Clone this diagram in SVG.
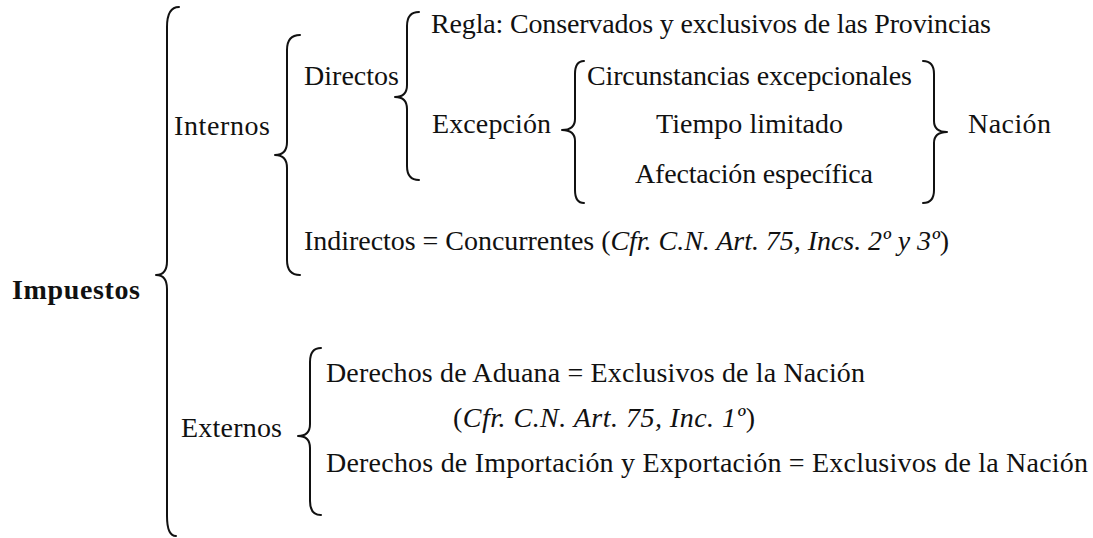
<svg xmlns="http://www.w3.org/2000/svg" width="1093" height="538" viewBox="0 0 1093 538">
<style>
text{font-family:"Liberation Serif","Times New Roman",serif;font-size:28px;fill:#111}
.b{font-weight:bold}
.i{font-style:italic}
.br{fill:none;stroke:#111;stroke-width:2;stroke-linecap:round;stroke-linejoin:round}
</style>
<rect width="1093" height="538" fill="#fff"/>
<g id="connectors">
<path class="br" d="M179,7 Q167,7 167,27 L167,261 Q167,275 156,275 Q167,275 167,289 L167,516 Q167,536 176,536"/>
<path class="br" d="M300,35 Q287,35 287,50 L287,142 Q287,155 275,155 Q287,155 287,168 L287,260 Q287,275 300,275"/>
<path class="br" d="M419,12 Q407,12 407,26 L407,85 Q407,97 395,97 Q407,97 407,109 L407,166 Q407,180 419,180"/>
<path class="br" d="M584,61 Q575,61 575,74 L575,119 Q575,130 562,130 Q575,130 575,141 L575,190 Q575,203 584,203"/>
<path class="br" d="M923,61 Q934,61 934,74 L934,121 Q934,132 947,132 Q934,132 934,143 L934,190 Q934,203 923,203"/>
<path class="br" d="M321,348 Q310,348 310,362 L310,424 Q310,436 298,436 Q310,436 310,448 L310,501 Q310,515 321,515"/>
</g>
<g id="impuestos"><text class="b" x="12" y="299" textLength="128">Impuestos</text></g>
<g id="internos"><text x="174" y="135" textLength="96">Internos</text></g>
<g id="directos"><text x="304" y="85" textLength="95">Directos</text></g>
<g id="regla"><text x="431" y="33" textLength="560">Regla: Conservados y exclusivos de las Provincias</text></g>
<g id="excepcion"><text x="432" y="133" textLength="119">Excepción</text></g>
<g id="circunstancias"><text x="587" y="85" textLength="325">Circunstancias excepcionales</text></g>
<g id="tiempo"><text x="656" y="133" textLength="187">Tiempo limitado</text></g>
<g id="afectacion"><text x="635" y="183" textLength="238">Afectación específica</text></g>
<g id="nacion"><text x="968" y="133" textLength="83">Nación</text></g>
<g id="indirectos"><text x="304" y="250" textLength="645">Indirectos = Concurrentes (<tspan class="i">Cfr. C.N. Art. 75, Incs. 2º y 3º</tspan>)</text></g>
<g id="externos"><text x="181" y="437" textLength="101">Externos</text></g>
<g id="aduana"><text x="326" y="382" textLength="539">Derechos de Aduana = Exclusivos de la Nación</text></g>
<g id="cfr1"><text x="453" y="427" textLength="302">(<tspan class="i">Cfr. C.N. Art. 75, Inc. 1º</tspan>)</text></g>
<g id="importacion"><text x="326" y="472" textLength="762">Derechos de Importación y Exportación = Exclusivos de la Nación</text></g>
</svg>
